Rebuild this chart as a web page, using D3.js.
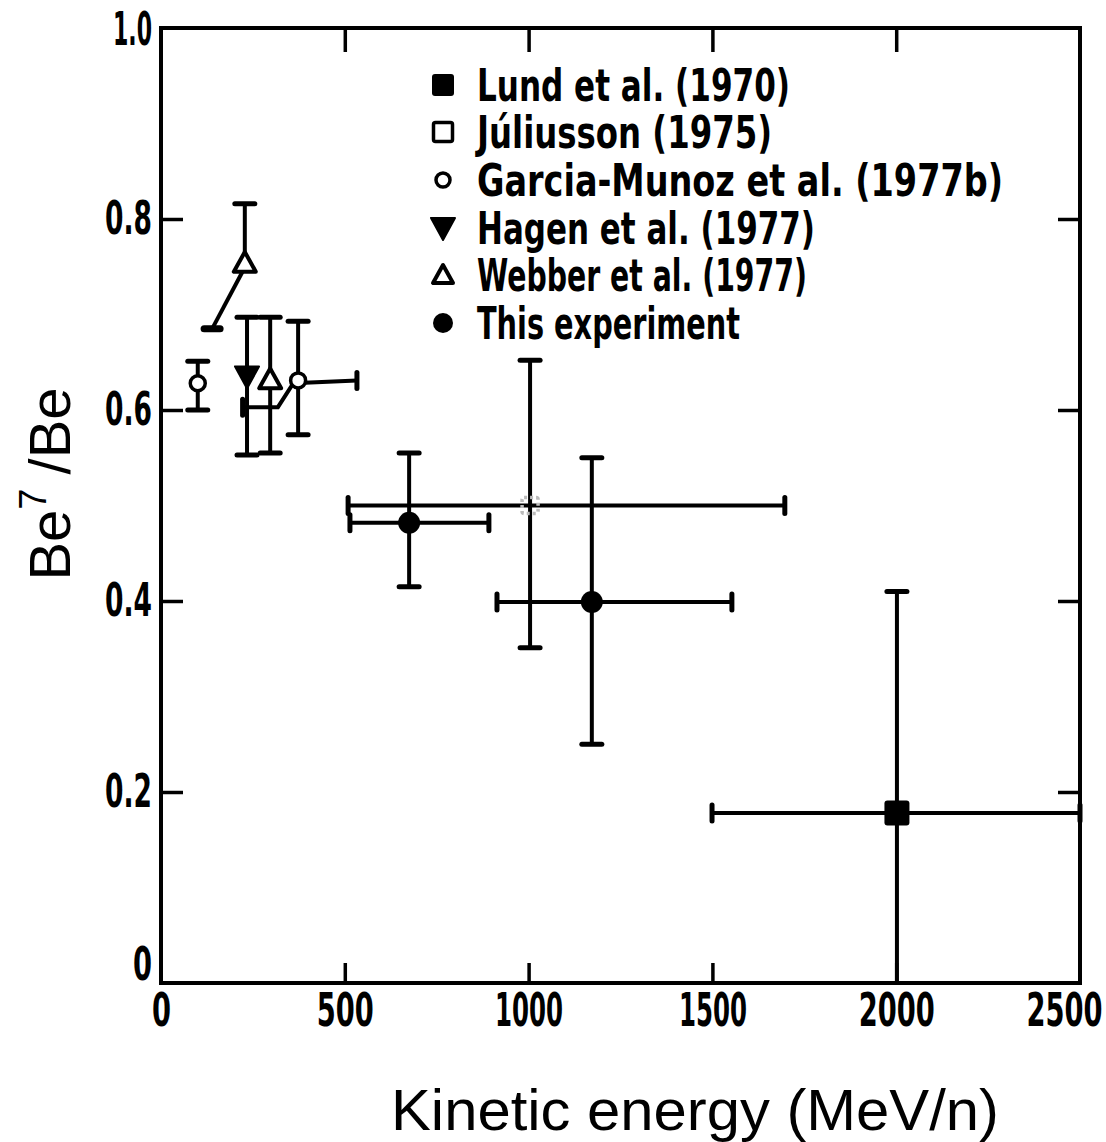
<!DOCTYPE html>
<html>
<head>
<meta charset="utf-8">
<script src="https://cdn.jsdelivr.net/npm/d3@7"></script>
<style>
  html, body { margin: 0; padding: 0; background: #fff; }
  svg { display: block; }
</style>
</head>
<body>
<svg id="chart" width="1106" height="1142"></svg>
<script>
// ---------- data ----------
const xTicks = [0, 500, 1000, 1500, 2000, 2500];
const xTickLabels = ["0", "500", "1000", "1500", "2000", "2500"];
const yTicks = [0, 0.2, 0.4, 0.6, 0.8, 1.0];
const yTickLabels = ["0", "0.2", "0.4", "0.6", "0.8", "1.0"];

const legendLabels = [
  "Lund et al. (1970)",
  "Júliusson (1975)",
  "Garcia-Munoz  et al. (1977b)",
  "Hagen et al. (1977)",
  "Webber et al. (1977)",
  "This experiment"
];
const legendKeys = ["lund", "juliusson", "garcia", "hagen", "webber", "this"];

// points: x (MeV/n), y ratio, vertical error bounds, horizontal range bounds
const lund = [{ x: 2002, y: 0.178, ylo: 0.0, yhi: 0.41, xlo: 1499, xhi: 2500 }];
const juliusson = [{ x: 1004, y: 0.50, ylo: 0.351, yhi: 0.652, xlo: 509, xhi: 1697 }];
const garcia = [
  { x: 100, y: 0.628, ylo: 0.600, yhi: 0.651 },
  { x: 373, y: 0.631, ylo: 0.574, yhi: 0.693 }
];
const hagen = [{ x: 234, y: 0.635, ylo: 0.553, yhi: 0.697 }];
const webber = [
  { x: 228, y: 0.754, ylo: 0.754, yhi: 0.816 },
  { x: 297, y: 0.632, ylo: 0.555, yhi: 0.697 }
];
const thisExp = [
  { x: 675, y: 0.482, ylo: 0.415, yhi: 0.555, xlo: 514, xhi: 892 },
  { x: 1172, y: 0.399, ylo: 0.250, yhi: 0.550, xlo: 914, xhi: 1553 }
];
// energy-range traces drawn as lines
const garciaRange = [[222, 0.603], [318, 0.603], [360, 0.628], [533, 0.631]];
const webberRange = [[139, 0.685], [222, 0.745]];

// ---------- layout ----------
const svg = d3.select("#chart");
const x = d3.scaleLinear().domain([0, 2500]).range([161, 1080]);
const y = d3.scaleLinear().domain([0, 1]).range([983, 28]);
const tickFont = "'Liberation Sans Narrow','DejaVu Sans Condensed','Arial Narrow',sans-serif";

// frame
svg.append("rect")
  .attr("x", x(0)).attr("y", y(1))
  .attr("width", x(2500) - x(0)).attr("height", y(0) - y(1))
  .attr("fill", "none").attr("stroke", "#000").attr("stroke-width", 4);

// narrow hand-lettered digits: fixed advance per glyph
const glyphW = ch => ch === "1" ? 11 : ch === "." ? 9 : 19;
const labelLen = s => Array.from(s).reduce((a, c) => a + glyphW(c), 0);

function styleAxis(g, showLabels) {
  g.select(".domain").remove();
  g.selectAll(".tick line").attr("stroke", "#000").attr("stroke-width", 3.5);
  g.selectAll(".tick text")
    .attr("fill", "#000")
    .style("font-family", tickFont)
    .style("font-weight", "bold")
    .style("font-size", "46px")
    .style("display", showLabels ? null : "none")
    .each(function () {
      const t = d3.select(this);
      t.attr("textLength", labelLen(t.text())).attr("lengthAdjust", "spacingAndGlyphs");
    });
}

const fmtX = (d) => xTickLabels[xTicks.indexOf(d)];
const fmtY = (d) => yTickLabels[yTicks.indexOf(d)];

svg.append("g").attr("transform", `translate(0,${y(0)})`)
  .call(d3.axisBottom(x).tickValues(xTicks.slice(1, 5)).tickFormat(fmtX).tickSizeInner(-20).tickSizeOuter(0).tickPadding(10))
  .call(g => styleAxis(g, true));
// 0 and 2500 labels (ticks coincide with frame)
svg.append("g").attr("transform", `translate(0,${y(0)})`)
  .call(d3.axisBottom(x).tickValues([0, 2500]).tickFormat(fmtX).tickSizeInner(0).tickSizeOuter(0).tickPadding(10))
  .call(g => styleAxis(g, true))
  .call(g => g.selectAll(".tick text").filter(d => d === 2500).attr("dx", -16));
svg.append("g").attr("transform", `translate(0,${y(1)})`)
  .call(d3.axisTop(x).tickValues(xTicks.slice(1, 5)).tickSizeInner(-24).tickSizeOuter(0))
  .call(g => styleAxis(g, false));
svg.append("g").attr("transform", `translate(${x(0)},0)`)
  .call(d3.axisLeft(y).tickValues(yTicks).tickFormat(fmtY).tickSizeInner(-22).tickSizeOuter(0).tickPadding(9))
  .call(g => styleAxis(g, true))
  .call(g => g.selectAll(".tick line").filter(d => d === 0 || d === 1).remove())
  .call(g => g.selectAll(".tick text").filter(d => d === 0).attr("y", -18))
  .call(g => g.selectAll(".tick text").filter(d => d === 1).attr("y", 2));
svg.append("g").attr("transform", `translate(${x(2500)},0)`)
  .call(d3.axisRight(y).tickValues(yTicks.slice(1, 5)).tickSizeInner(-22).tickSizeOuter(0))
  .call(g => styleAxis(g, false));

// axis titles
svg.append("text")
  .attr("x", 695).attr("y", 1130)
  .attr("text-anchor", "middle")
  .attr("textLength", 608).attr("lengthAdjust", "spacingAndGlyphs")
  .style("font-family", "'Liberation Sans','DejaVu Sans',sans-serif")
  .style("font-size", "58px")
  .text("Kinetic energy (MeV/n)");

const yt = svg.append("text")
  .attr("transform", "translate(70,484) rotate(-90)")
  .attr("text-anchor", "middle")
  .style("font-family", "'Liberation Sans','DejaVu Sans',sans-serif")
  .style("font-size", "58px");
yt.append("tspan").text("Be");
yt.append("tspan").attr("dy", -24).style("font-size", "38px").text("7");
yt.append("tspan").attr("dy", 24).attr("dx", 14).text("/Be");

// ---------- marks ----------
const plot = svg.append("g");
const lw = 4;
function vbar(d, cap = 20) {
  plot.append("line").attr("x1", x(d.x)).attr("x2", x(d.x)).attr("y1", y(d.ylo)).attr("y2", y(d.yhi))
    .attr("stroke", "#000").attr("stroke-width", lw);
  [d.ylo, d.yhi].forEach(v => {
    if (v === d.y || v === 0) return;
    plot.append("line").attr("x1", x(d.x) - cap / 2).attr("x2", x(d.x) + cap / 2)
      .attr("y1", y(v)).attr("y2", y(v)).attr("stroke", "#000").attr("stroke-width", 5)
      .attr("stroke-linecap", "round");
  });
}
function hbar(d, cap = 16) {
  plot.append("line").attr("x1", x(d.xlo)).attr("x2", x(d.xhi)).attr("y1", y(d.y)).attr("y2", y(d.y))
    .attr("stroke", "#000").attr("stroke-width", lw);
  [d.xlo, d.xhi].forEach(v => {
    plot.append("line").attr("x1", x(v)).attr("x2", x(v))
      .attr("y1", y(d.y) - cap / 2).attr("y2", y(d.y) + cap / 2)
      .attr("stroke", "#000").attr("stroke-width", 5).attr("stroke-linecap", "round");
  });
}

// range traces
const line = d3.line().x(d => x(d[0])).y(d => y(d[1]));
plot.append("path").attr("d", line(garciaRange)).attr("fill", "none")
  .attr("stroke", "#000").attr("stroke-width", lw);
[garciaRange[0], garciaRange[garciaRange.length - 1]].forEach(p => {
  plot.append("line").attr("x1", x(p[0])).attr("x2", x(p[0]))
    .attr("y1", y(p[1]) - 8).attr("y2", y(p[1]) + 8)
    .attr("stroke", "#000").attr("stroke-width", 5).attr("stroke-linecap", "round");
});
plot.append("path").attr("d", line(webberRange)).attr("fill", "none")
  .attr("stroke", "#000").attr("stroke-width", lw);
plot.append("line").attr("x1", x(webberRange[0][0]) - 8).attr("x2", x(webberRange[0][0]) + 8)
  .attr("y1", y(webberRange[0][1])).attr("y2", y(webberRange[0][1]))
  .attr("stroke", "#000").attr("stroke-width", 7).attr("stroke-linecap", "round");

juliusson.forEach(d => { vbar(d); hbar(d); });
lund.forEach(d => { vbar(d); hbar(d); });
thisExp.forEach(d => { vbar(d); hbar(d); });
garcia.forEach(d => vbar(d));
hagen.forEach(d => vbar(d));
webber.forEach(d => vbar(d));

// marker shapes
const sym = {
  lund: (g, s) => g.append("rect").attr("x", -s / 2).attr("y", -s / 2).attr("width", s).attr("height", s).attr("rx", 3).attr("fill", "#000"),
  juliusson: (g, s) => g.append("rect").attr("x", -s / 2).attr("y", -s / 2).attr("width", s).attr("height", s).attr("rx", 2).attr("fill", "#fff").attr("stroke", "#000").attr("stroke-width", 3.5),
  garcia: (g, s) => g.append("circle").attr("r", s / 2).attr("fill", "#fff").attr("stroke", "#000").attr("stroke-width", 3.5),
  hagen: (g, s) => g.append("path").attr("d", `M${-s / 2},${-s * 0.42}L${s / 2},${-s * 0.42}L0,${s * 0.5}Z`).attr("fill", "#000").attr("stroke", "#000").attr("stroke-width", 2).attr("stroke-linejoin", "round"),
  webber: (g, s) => g.append("path").attr("d", `M${-s / 2},${s * 0.4}L${s / 2},${s * 0.4}L0,${-s * 0.5}Z`).attr("fill", "#fff").attr("stroke", "#000").attr("stroke-width", 4).attr("stroke-linejoin", "round"),
  this: (g, s) => g.append("circle").attr("r", s / 2).attr("fill", "#000")
};

function markers(data, key, size, extra) {
  data.forEach(d => {
    const g = plot.append("g").attr("transform", `translate(${x(d.x)},${y(d.y)})`);
    const m = sym[key](g, size);
    if (extra) extra(m);
  });
}
markers(juliusson, "juliusson", 16, m => m.attr("stroke", "#bbb").attr("stroke-dasharray", "3,3").attr("fill", "none"));
markers(lund, "lund", 25);
markers(garcia, "garcia", 15);
markers(hagen, "hagen", 24);
markers(webber, "webber", 22);
markers(thisExp, "this", 22);

// ---------- legend ----------
const legendY = [85, 132, 180, 228, 275, 323];
const legendWidths = [313, 295, 526, 338, 330, 263];
const legendSizes = { lund: 22, juliusson: 19, garcia: 14, hagen: 24, webber: 20, this: 20 };
const leg = svg.append("g");
legendLabels.forEach((lab, i) => {
  const key = legendKeys[i];
  const g = leg.append("g").attr("transform", `translate(443,${legendY[i]})`);
  sym[key](g, legendSizes[key]);
  leg.append("text")
    .attr("x", 477).attr("y", legendY[i] + 16)
    .attr("textLength", legendWidths[i]).attr("lengthAdjust", "spacingAndGlyphs")
    .style("font-family", tickFont)
    .style("font-weight", "bold")
    .style("font-size", "44px")
    .text(lab);
});
</script>
</body>
</html>
